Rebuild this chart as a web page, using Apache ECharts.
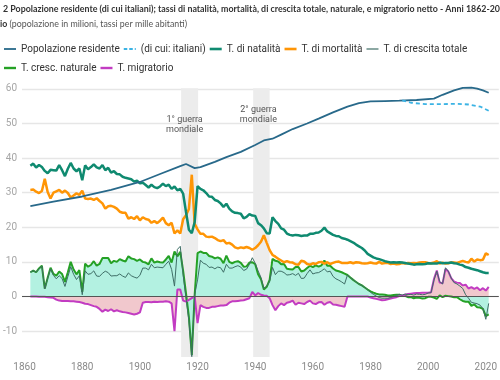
<!DOCTYPE html>
<html><head><meta charset="utf-8">
<script src="https://cdn.jsdelivr.net/npm/echarts@6/dist/echarts.min.js"></script>
<style>html,body{margin:0;padding:0;background:#fff}#c{width:500px;height:380px}</style>
</head><body><div id="c"></div>
<script>
const firstYear = 1862;
const titleLine1 = "2 Popolazione residente (di cui italiani); tassi di natalità, mortalità, di crescita totale, naturale, e migratorio netto - Anni 1862-20";
const titleLine2Bold = "io";
const titleLine2 = " (popolazione in milioni, tassi per mille abitanti)";
const seriesNames = ["Popolazione residente","(di cui: italiani)","T. di natalità","T. di mortalità","T. di crescita totale","T. cresc. naturale","T. migratorio"];
const warLabels = ["1° guerra\nmondiale","2° guerra\nmondiale"];
const warPeriods = [[1914.3,1920.2],[1939.3,1945.0]];

const popYears = [1862,1870,1880,1890,1900,1907,1914,1916,1919,1921,1926,1930,1935,1940,1943,1946,1949,1953,1958,1962,1967,1972,1976,1980,1985,1990,1996,2002,2005,2009,2012,2015,2017,2019,2021];
const popValues = [26.1,27.4,28.9,30.8,33.1,35.4,37.7,38.3,37.1,37.4,38.9,40.3,41.8,43.8,45.1,45.6,46.8,48.4,50.0,51.4,53.2,54.9,55.9,56.4,56.5,56.6,56.8,57.2,58.3,59.6,60.3,60.4,60.1,59.6,58.9];
const itaYears = [1991,1994,1999,2005,2010,2014,2018,2021];
const itaValues = [56.7,56.0,55.6,55.6,55.7,55.5,54.9,53.7];

const natalita = [
37.8,38.4,37.3,38.0,37.4,36.3,35.6,36.6,36.5,36.4,
38.0,36.5,34.8,36.9,38.6,37.0,36.2,37.0,33.6,37.9,
36.8,37.4,38.2,37.3,37.0,38.0,36.5,37.2,35.8,36.2,
35.4,35.3,34.6,34.3,34.1,33.9,33.2,33.5,32.7,32.9,
32.2,31.5,32.3,31.6,31.3,31.8,32.6,31.9,32.3,31.1,
31.8,30.7,31.1,29.7,24.4,19.3,18.3,21.5,31.9,31.1,
30.7,29.9,28.9,28.8,27.9,27.6,26.9,25.9,26.8,25.4,
24.6,24.2,24.1,23.9,22.6,23.0,23.8,23.4,23.3,21.2,
20.6,19.7,18.3,18.2,22.9,21.8,21.0,19.7,19.3,18.2,
17.8,17.6,17.8,17.7,17.5,17.6,17.6,18.1,18.1,18.4,
18.5,19.0,19.9,18.8,18.3,17.8,17.5,17.4,16.9,16.7,
16.4,16.0,15.6,15.0,14.5,14.0,13.3,12.3,11.8,11.3,
11.0,10.8,10.5,10.2,10.0,9.8,9.9,9.8,9.9,9.8,
9.7,9.5,9.4,9.2,9.3,9.4,9.3,9.4,9.6,9.5,
9.5,9.5,9.8,9.6,9.7,9.7,9.8,9.6,9.5,9.2,
9.0,8.5,8.3,8.0,7.8,7.6,7.3,7.0,6.8,6.8];

const mortalita = [
30.8,30.9,30.3,29.9,30.5,34.0,30.2,28.3,30.0,30.4,
30.8,30.0,30.6,29.9,28.6,29.2,29.8,29.4,30.6,28.3,
28.2,28.3,27.9,28.4,27.6,26.9,25.4,26.1,26.2,25.9,
25.4,24.5,24.2,24.2,22.5,22.9,22.4,23.2,22.0,22.9,
22.4,22.2,21.3,21.8,21.2,21.9,22.8,21.2,20.6,21.3,
18.2,19.1,18.2,22.3,23.5,25.3,35.2,21.0,19.4,18.1,
18.1,17.3,17.2,17.3,16.9,16.3,16.0,16.3,15.3,15.5,
15.0,14.2,13.9,14.2,14.0,14.3,14.0,13.5,14.0,14.8,
15.8,17.7,15.5,13.4,12.0,11.5,10.9,10.4,9.9,10.2,
9.9,9.8,9.3,9.2,10.3,10.1,9.4,9.2,9.6,9.4,
9.9,10.0,9.5,9.9,9.4,9.7,10.0,10.1,9.7,9.7,
9.7,9.9,9.6,9.9,9.8,9.6,9.5,9.6,9.8,9.6,
9.5,10.0,9.5,9.7,9.7,9.4,9.5,9.3,9.4,9.7,
9.5,9.7,9.6,9.7,9.6,9.8,9.9,9.9,9.7,9.6,
9.8,10.2,9.5,9.8,9.5,9.6,9.8,9.8,9.7,10.0,
10.3,10.0,9.8,10.9,10.1,10.7,10.5,10.6,12.5,12.0];

const naturale = [
7.0,7.5,7.0,8.1,8.9,2.3,5.4,8.3,6.5,6.0,
7.2,6.5,4.2,7.0,10.0,7.8,6.4,7.6,1.3,9.5,
8.6,9.1,10.2,8.9,9.4,11.1,11.1,11.1,9.6,10.3,
10.0,10.8,10.4,10.1,11.6,11.0,10.8,10.3,10.7,10.0,
9.8,9.3,11.0,9.8,10.1,9.9,9.8,10.7,11.7,9.8,
13.0,11.6,12.9,7.4,0.9,-6.0,-16.9,0.5,12.5,13.0,
12.6,12.6,11.7,11.5,11.0,11.3,10.9,9.6,11.8,10.0,
9.6,10.0,10.2,9.7,8.6,8.7,9.8,9.9,9.3,6.4,
5.0,2.0,2.8,4.8,10.9,10.3,10.1,9.3,9.4,8.0,
7.9,7.8,8.5,8.5,7.2,7.5,8.2,8.9,8.5,9.0,
8.6,9.0,10.4,8.9,8.9,8.1,7.5,7.3,7.0,6.6,
6.2,5.5,4.8,4.2,3.6,3.2,2.6,2.0,1.5,1.1,
0.8,0.6,0.6,0.5,0.3,0.3,0.4,0.5,0.5,0.1,
0.2,-0.2,-0.2,-0.5,-0.3,-0.4,-0.6,-0.5,-0.1,-0.1,
-0.3,-0.7,0.3,-0.2,0.2,0.1,0.0,-0.2,-0.2,-0.8,
-1.3,-1.5,-1.5,-2.7,-2.3,-3.1,-3.2,-3.6,-5.7,-5.2];

const migratorio = [
0.0,0.0,0.0,-0.1,-0.1,-0.1,-0.2,-0.3,-0.4,-0.9,
-1.2,-1.3,-1.3,-1.3,-1.4,-1.4,-1.5,-1.6,-1.8,-2.1,
-2.2,-2.5,-2.8,-3.0,-3.6,-4.4,-3.8,-4.2,-3.7,-4.3,
-4.0,-4.3,-4.5,-4.6,-4.8,-5.0,-5.2,-5.0,-4.6,-1.8,
-1.6,-1.6,-1.7,-1.5,-1.6,-1.5,-1.5,-1.4,-1.5,-2.0,
-10.0,2.0,2.0,-1.2,-1.5,-1.0,-0.5,0.0,-7.7,-2.5,
-3.0,-3.3,-3.3,-3.0,-3.0,-2.8,-2.6,-2.6,-2.5,-1.8,
-1.4,-1.4,-1.3,-1.2,-1.1,-0.8,-0.5,1.3,0.3,1.0,
0.5,0.3,0.2,-0.5,-2.5,-4.0,-2.8,-2.0,-2.5,-1.8,
-1.6,-1.2,-2.4,-1.8,-2.0,-2.2,-1.6,-1.2,-2.0,-2.2,
-1.7,-1.6,-2.4,-1.8,-1.6,-2.3,-2.4,-2.6,-2.8,-3.0,
0.0,0.0,0.0,0.0,0.0,0.0,0.0,0.0,-0.3,-0.5,
-0.7,-0.9,-1.1,-1.0,-0.8,-0.6,-0.4,-0.2,0.1,0.3,
0.5,0.7,0.8,0.9,1.0,1.0,1.1,1.1,1.1,1.2,
5.0,7.5,4.0,3.8,7.9,7.2,5.3,4.3,4.0,3.9,
3.2,3.4,2.3,2.7,2.2,2.6,1.8,2.4,1.7,2.8];

const totale = [
7.0,7.5,7.0,8.0,8.8,2.2,5.2,8.0,6.1,5.1,
6.0,5.2,2.9,5.7,8.6,6.4,4.9,6.0,0.5,7.4,
6.4,6.6,7.4,5.9,5.8,6.7,7.3,6.9,5.9,6.0,
6.0,6.5,5.9,5.5,6.8,6.0,5.6,5.3,6.1,8.2,
8.2,7.7,9.3,8.3,8.5,8.4,8.3,9.3,10.2,7.8,
3.0,13.6,14.5,6.2,-0.6,-7.0,-17.4,0.5,4.8,10.5,
9.6,9.3,8.4,8.5,8.0,8.5,8.3,7.0,9.3,8.2,
8.2,8.6,8.9,8.5,7.5,7.9,9.3,11.2,9.6,7.4,
5.5,2.3,3.0,4.3,8.4,6.3,7.3,7.3,6.9,6.2,
6.3,6.6,6.1,6.7,5.2,5.3,6.6,7.7,6.5,6.8,
6.9,7.4,8.0,7.1,7.3,5.8,5.1,4.7,4.2,3.6,
6.2,5.5,4.8,4.2,3.6,3.2,2.6,2.0,1.2,0.6,
0.1,-0.3,-0.5,-0.5,-0.5,-0.3,0.0,0.3,0.6,0.4,
0.7,0.5,0.6,0.4,0.7,0.6,0.5,0.6,1.0,1.1,
4.7,7.3,4.3,3.6,8.3,7.3,5.3,4.0,3.6,3.0,
2.3,0.5,-0.5,-1.7,-1.9,-2.1,-2.5,-3.5,-6.6,-2.0];

const annual = arr => arr.map((v, i) => [firstYear + i, v]);
const paired = (ys, vs) => ys.map((y, i) => [y, vs[i]]);

const FONT = 'Roboto';
const TFONT = 'Lato';
const ctx = document.createElement('canvas').getContext('2d');
function textW(str, weight, size, fam) { ctx.font = weight + ' ' + size + 'px ' + fam; return ctx.measureText(str).width; }
const t1Scale = 497 / textW(titleLine1, 'bold', 10, TFONT);
const t2Scale = 187 / (textW(titleLine2Bold, 'bold', 10, TFONT) + textW(titleLine2, 'normal', 10, TFONT));

// legend icons: bands centred in a 12x12 box (the corner moves only fix the box)
const band = h => 'path://M0,0L0,0M12,12L12,12M0,' + (6 - h / 2) + 'L12,' + (6 - h / 2) + 'L12,' + (6 + h / 2) + 'L0,' + (6 + h / 2) + 'Z';
const dashIcon = 'path://M0,0L0,0M12,12L12,12M0,5.1L3.5,5.1L3.5,6.9L0,6.9ZM5.5,5.1L9,5.1L9,6.9L5.5,6.9ZM11,5.1L12,5.1L12,6.9L11,6.9Z';
const legendIcons = [band(1.8), dashIcon, band(2.6), band(2.6), band(1.2), band(2.4), band(2.4)];

const chart = echarts.init(document.getElementById('c'), null, {renderer: 'canvas'});
const lineBase = {type: 'line', symbol: 'none', showSymbol: false, animation: false, emphasis: {disabled: true}, z: 3};
const legendText = {fontSize: 10, color: '#333', fontFamily: FONT};

chart.setOption({
  animation: false,
  textStyle: {fontFamily: FONT},
  graphic: [
    {type: 'text', x: 3, y: 4, scaleX: t1Scale, silent: true,
     style: {text: titleLine1, fontFamily: TFONT, fontWeight: 'bold', fontSize: 10, fill: '#333', verticalAlign: 'top'}},
    {type: 'text', x: 0, y: 19, scaleX: t2Scale, silent: true,
     style: {text: '{b|' + titleLine2Bold + '}{r|' + titleLine2 + '}', fontFamily: TFONT, fontSize: 10, fill: '#555', verticalAlign: 'top',
       rich: {b: {fontWeight: 'bold', fill: '#333', fontFamily: TFONT, fontSize: 10},
              r: {fontWeight: 'normal', fill: '#555', fontFamily: TFONT, fontSize: 10}}}}
  ],
  legend: [
    {data: seriesNames.slice(0, 5).map((n, i) => ({name: n, icon: legendIcons[i]})),
     left: -1, top: 38, itemWidth: 12, itemHeight: 12, itemGap: 4, selectedMode: false, textStyle: legendText},
    {data: seriesNames.slice(5).map((n, i) => ({name: n, icon: legendIcons[i + 5]})),
     left: -1, top: 57, itemWidth: 12, itemHeight: 12, itemGap: 4, selectedMode: false, textStyle: legendText}
  ],
  grid: {left: 20, right: 0, top: 82, bottom: 23},
  xAxis: {
    type: 'value', min: 1859.1, max: 2024.5, splitNumber: 8,
    axisLine: {show: false}, axisTick: {show: false}, splitLine: {show: false},
    axisLabel: {showMinLabel: false, showMaxLabel: false, color: '#8a8a8a', fontSize: 10, margin: 5,
      formatter: v => (Math.abs(v % 20) < 1e-6 ? String(v) : '')}
  },
  yAxis: {
    type: 'value', min: -17.5, max: 62, splitNumber: 8,
    axisLine: {show: false}, axisTick: {show: false},
    splitLine: {show: true, showMinLine: false, showMaxLine: false, lineStyle: {color: '#e6e6e6', width: 1.3}},
    axisLabel: {showMinLabel: false, showMaxLabel: false, color: '#a6a6a6', fontSize: 10, margin: 5,
      formatter: v => (Math.abs(v % 10) < 1e-6 ? String(v) : '')}
  },
  series: [
    {type: 'line', name: 'guerre', data: [], z: 1, silent: true,
     markArea: {silent: true, itemStyle: {color: '#ececec'},
       label: {show: true, position: 'insideTop', distance: 0, color: '#555', fontSize: 9, lineHeight: 10, fontFamily: FONT},
       data: [
         [{name: warLabels[0], xAxis: warPeriods[0][0], yAxis: 60.2, label: {offset: [-5, 27]}}, {xAxis: warPeriods[0][1], yAxis: -17.5}],
         [{name: warLabels[1], xAxis: warPeriods[1][0], yAxis: 60.2, label: {offset: [-3, 16.5]}}, {xAxis: warPeriods[1][1], yAxis: -17.5}]
       ]}},
    Object.assign({}, lineBase, {name: seriesNames[5], data: annual(naturale), z: 2,
      lineStyle: {color: '#25a125', width: 2}, itemStyle: {color: '#25a125'},
      areaStyle: {color: '#b3f1e1', opacity: 1}}),
    Object.assign({}, lineBase, {name: seriesNames[6], data: annual(migratorio), z: 2,
      lineStyle: {color: '#c23cc2', width: 2}, itemStyle: {color: '#c23cc2'},
      areaStyle: {color: '#f1c8cd', opacity: 1}}),
    Object.assign({}, lineBase, {name: seriesNames[4], data: annual(totale),
      lineStyle: {color: '#3e6e66', width: 1}, itemStyle: {color: '#3e6e66'},
      markLine: {silent: true, symbol: 'none', label: {show: false}, lineStyle: {color: '#555', width: 1, type: 'solid'},
        data: [{yAxis: 0}]}}),
    Object.assign({}, lineBase, {name: seriesNames[3], data: annual(mortalita),
      lineStyle: {color: '#ff9505', width: 2.5}, itemStyle: {color: '#ff9505'}}),
    Object.assign({}, lineBase, {name: seriesNames[2], data: annual(natalita),
      lineStyle: {color: '#0f8a70', width: 2.5}, itemStyle: {color: '#0f8a70'}}),
    Object.assign({}, lineBase, {name: seriesNames[0], data: paired(popYears, popValues),
      lineStyle: {color: '#28698a', width: 1.8}, itemStyle: {color: '#28698a'}}),
    Object.assign({}, lineBase, {name: seriesNames[1], data: paired(itaYears, itaValues),
      lineStyle: {color: '#3bb3e4', width: 1.8, type: [4, 3]}, itemStyle: {color: '#3bb3e4'}})
  ]
});
</script></body></html>
